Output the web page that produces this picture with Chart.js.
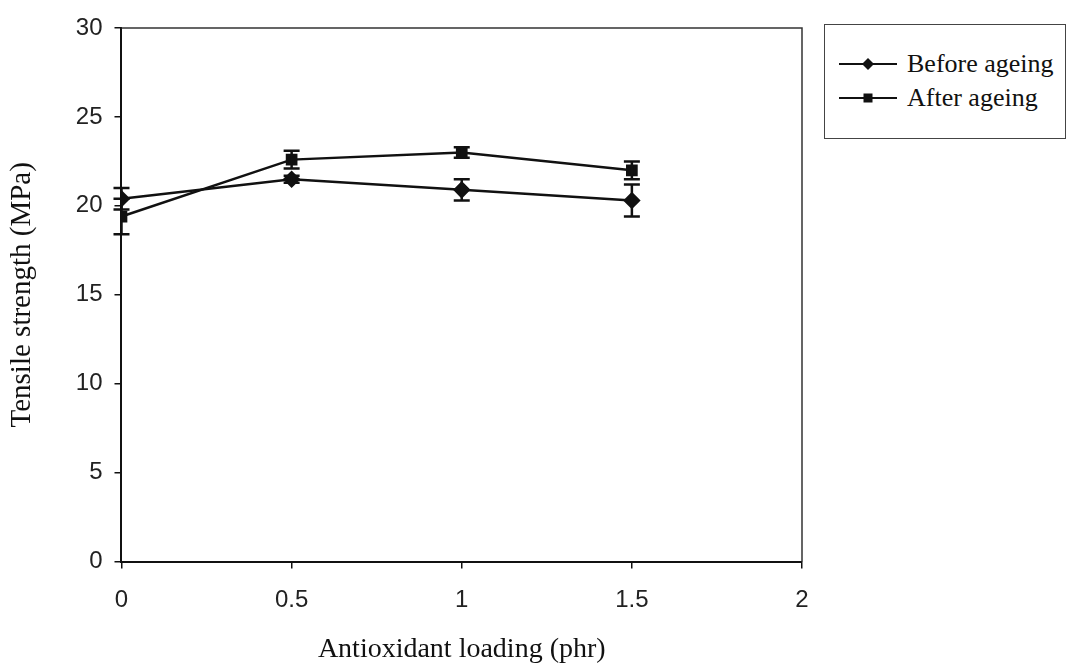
<!DOCTYPE html>
<html>
<head>
<meta charset="utf-8">
<script src="https://cdn.jsdelivr.net/npm/chart.js@4"></script>
<style>
  body { margin: 0; background: #fff; }
  #wrap { position: relative; width: 1067px; height: 666px; }
  #legend {
    position: absolute; left: 824px; top: 24px; width: 242px; height: 115px;
    border: 1.5px solid #444; box-sizing: border-box; background: #fff;
    font-family: "Liberation Serif", "Times New Roman", serif; font-size: 26px; color: #111;
    padding-top: 22px;
  }
  .row { display: flex; align-items: center; height: 34px; white-space: nowrap; }
  .row svg { margin-left: 14px; margin-right: 10px; }
</style>
</head>
<body>
<div id="wrap">
  <canvas id="myChart" width="1067" height="666"></canvas>
  <div id="legend">
    <div class="row">
      <svg width="58" height="16"><line x1="0" y1="8" x2="58" y2="8" stroke="#111" stroke-width="2"/><polygon points="29,2 35,8 29,14 23,8" fill="#111"/></svg>
      <span>Before ageing</span>
    </div>
    <div class="row">
      <svg width="58" height="16"><line x1="0" y1="8" x2="58" y2="8" stroke="#111" stroke-width="2"/><rect x="24.5" y="3.5" width="9" height="9" fill="#111"/></svg>
      <span>After ageing</span>
    </div>
  </div>
</div>
<script>
/* Tensile strength before and after ageing vs antioxidant loading. */
const loading = [0, 0.5, 1, 1.5];
const before_ageing = [20.4, 21.5, 20.9, 20.3];
const before_err = [0.6, 0.2, 0.6, 0.9];
const after_ageing = [19.4, 22.6, 23.0, 22.0];
const after_err = [1.0, 0.5, 0.3, 0.5];
const x_ticks = [0, 0.5, 1, 1.5, 2];
const y_ticks = [0, 5, 10, 15, 20, 25, 30];

const toPoints = (ys) => loading.map((x, i) => ({ x: x, y: ys[i] }));

/* Draw error bars and the plot frame through the scales. */
const errorBars = {
  id: "errorBars",
  afterDatasetsDraw(chart) {
    const ctx = chart.ctx;
    const xs = chart.scales.x;
    const ys = chart.scales.y;
    const sets = [[before_ageing, before_err], [after_ageing, after_err]];
    ctx.save();
    ctx.strokeStyle = "#111";
    ctx.lineWidth = 2.5;
    sets.forEach(([vals, errs]) => {
      vals.forEach((v, i) => {
        const px = xs.getPixelForValue(loading[i]);
        const top = ys.getPixelForValue(v + errs[i]);
        const bot = ys.getPixelForValue(v - errs[i]);
        ctx.beginPath();
        ctx.moveTo(px, top); ctx.lineTo(px, bot);
        ctx.moveTo(px - 8, top); ctx.lineTo(px + 8, top);
        ctx.moveTo(px - 8, bot); ctx.lineTo(px + 8, bot);
        ctx.stroke();
      });
    });
    ctx.restore();
  },
  beforeDatasetsDraw(chart) {
    const { ctx, chartArea: a } = chart;
    ctx.save();
    ctx.strokeStyle = "#333";
    ctx.lineWidth = 1.5;
    ctx.beginPath();
    ctx.moveTo(a.left, a.top); ctx.lineTo(a.right, a.top); ctx.lineTo(a.right, a.bottom);
    ctx.stroke();
    ctx.restore();
  },
};

const ctx = document.getElementById("myChart");
const chart = new Chart(ctx, {
  type: "line",
  data: {
    datasets: [
      {
        label: "Before ageing",
        data: toPoints(before_ageing),
        borderColor: "#111",
        backgroundColor: "#111",
        borderWidth: 2.5,
        pointStyle: "rectRot",
        pointRadius: 7,
        tension: 0,
      },
      {
        label: "After ageing",
        data: toPoints(after_ageing),
        borderColor: "#111",
        backgroundColor: "#111",
        borderWidth: 2.5,
        pointStyle: "rect",
        pointRadius: 6.5,
        tension: 0,
      },
    ],
  },
  options: {
    responsive: false,
    animation: false,
    layout: { padding: { left: 0, right: 265, top: 28, bottom: 0 } },
    plugins: { legend: { display: false }, tooltip: { enabled: false } },
    scales: {
      x: {
        type: "linear",
        min: 0,
        max: 2,
        afterBuildTicks: (s) => { s.ticks = x_ticks.map((v) => ({ value: v })); },
        ticks: {
          color: "#222",
          font: { family: "Liberation Sans, Arial, sans-serif", size: 24 },
          padding: 17,
          callback: (v) => String(v),
        },
        grid: { drawOnChartArea: false, color: "#111", tickLength: 7, lineWidth: 1.5 },
        border: { color: "#111", width: 2 },
        title: {
          display: true,
          text: "Antioxidant loading (phr)",
          color: "#111",
          font: { family: "Liberation Serif, Times New Roman, serif", size: 28 },
          padding: { top: 1, bottom: 0 },
        },
      },
      y: {
        min: 0,
        max: 30,
        afterBuildTicks: (s) => { s.ticks = y_ticks.map((v) => ({ value: v })); },
        ticks: {
          color: "#222",
          font: { family: "Liberation Sans, Arial, sans-serif", size: 24 },
          padding: 12,
        },
        grid: { drawOnChartArea: false, color: "#111", tickLength: 7, lineWidth: 1.5 },
        border: { color: "#111", width: 2 },
        title: {
          display: true,
          text: "Tensile strength (MPa)",
          color: "#111",
          font: { family: "Liberation Serif, Times New Roman, serif", size: 29 },
          padding: { top: 5, bottom: 24 },
        },
      },
    },
  },
  plugins: [errorBars],
});
</script>
</body>
</html>
